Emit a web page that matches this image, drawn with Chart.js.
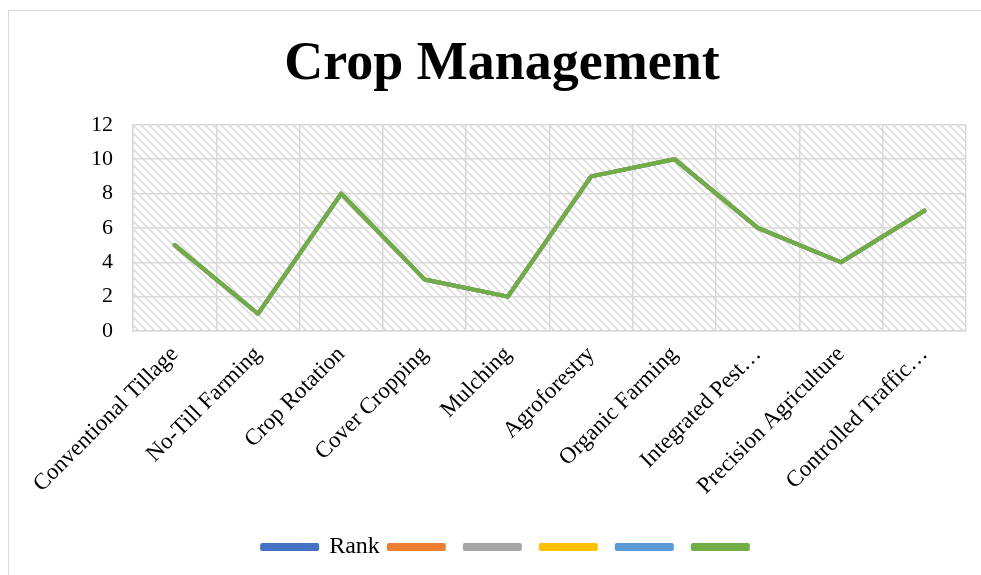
<!DOCTYPE html>
<html>
<head>
<meta charset="utf-8">
<script src="https://cdn.jsdelivr.net/npm/chart.js@4.4.1/dist/chart.umd.min.js"></script>
<style>
    html, body { margin: 0; padding: 0; background: #fff; overflow: hidden; }
    #frame {
        position: absolute; left: 8px; top: 10px; width: 1000px; height: 600px;
        border: 1.5px solid #d9d9d9; box-sizing: border-box;
    }
    #wrap { position: absolute; left: 0; top: 0; width: 981px; height: 575px; }
</style>
</head>
<body>
<div id="frame"></div>
<div id="wrap"><canvas id="cropChart"></canvas></div>
<script>
// Chart data
const categories = [
    'Conventional Tillage', 'No-Till Farming', 'Crop Rotation', 'Cover Cropping', 'Mulching',
    'Agroforestry', 'Organic Farming', 'Integrated Pest…', 'Precision Agriculture', 'Controlled Traffic…'
];
const rankValues = [5, 1, 8, 3, 2, 9, 10, 6, 4, 7];
const seriesLabels = ['Rank', '', '', '', '', ''];
const seriesColors = ['#4472C4', '#ED7D31', '#A5A5A5', '#FFC000', '#5B9BD5', '#70AD47'];
const yTicks = [0, 2, 4, 6, 8, 10, 12];

const serif = "'Liberation Serif', 'Times New Roman', serif";

// diagonal hatch fill for the plot area
function makeHatch() {
    const c = document.createElement('canvas');
    c.width = 8; c.height = 8;
    const g = c.getContext('2d');
    g.fillStyle = '#fff';
    g.fillRect(0, 0, 8, 8);
    g.strokeStyle = '#dedede';
    g.lineWidth = 1.8;
    g.beginPath();
    g.moveTo(-2, -2); g.lineTo(10, 10);
    g.moveTo(-2, 6); g.lineTo(2, 10);
    g.moveTo(6, -2); g.lineTo(10, 2);
    g.stroke();
    return c;
}

const hatchBg = {
    id: 'hatchBg',
    beforeDraw(chart) {
        const { ctx, chartArea: a } = chart;
        ctx.save();
        ctx.fillStyle = ctx.createPattern(makeHatch(), 'repeat');
        ctx.fillRect(a.left, a.top, a.right - a.left, a.bottom - a.top);
        ctx.restore();
    }
};

// nudge legend a bit to the right, like the original
const legendShift = {
    id: 'legendShift',
    afterLayout(chart) {
        chart.legend.left += 9;
        chart.legend.right += 9;
    }
};

const datasets = seriesLabels.map((label, i) => ({
    label: label,
    data: rankValues,
    borderColor: seriesColors[i],
    backgroundColor: seriesColors[i],
    borderWidth: 4,
    pointRadius: 0,
    tension: 0,
    borderJoinStyle: 'round',
    borderCapStyle: 'round',
    order: seriesLabels.length - i
}));

new Chart(document.getElementById('cropChart'), {
    type: 'line',
    data: { labels: categories, datasets: datasets },
    options: {
        responsive: true,
        maintainAspectRatio: false,
        animation: false,
        layout: { padding: { left: 38, right: 15, top: 0, bottom: 6 } },
        plugins: {
            title: {
                display: true,
                text: 'Crop Management',
                color: '#000',
                font: { family: serif, size: 54, weight: 'bold' },
                padding: { top: 33, bottom: 27 }
            },
            legend: {
                position: 'bottom',
                labels: {
                    boxWidth: 55,
                    boxHeight: 4,
                    padding: 9,
                    color: '#000',
                    font: { family: serif, size: 24 },
                    sort: (a, b) => a.datasetIndex - b.datasetIndex
                }
            },
            tooltip: { enabled: false }
        },
        scales: {
            x: {
                offset: true,
                grid: { offset: true, color: '#d9d9d9', lineWidth: 1.5, drawTicks: false },
                border: { color: '#d9d9d9', width: 1.5 },
                ticks: {
                    color: '#000',
                    font: { family: serif, size: 23 },
                    maxRotation: 45,
                    minRotation: 45,
                    padding: 10,
                    autoSkip: false
                },
                afterFit(scale) { scale.height = 195; }
            },
            y: {
                min: 0,
                max: 12,
                afterBuildTicks(scale) { scale.ticks = yTicks.map(v => ({ value: v })); },
                grid: { color: '#d9d9d9', lineWidth: 1.5, drawTicks: false },
                border: { color: '#d9d9d9', width: 1.5 },
                ticks: {
                    color: '#000',
                    font: { family: serif, size: 22 },
                    padding: 20
                },
                afterFit(scale) { scale.width = 95; }
            }
        }
    },
    plugins: [hatchBg, legendShift]
});
</script>
</body>
</html>
